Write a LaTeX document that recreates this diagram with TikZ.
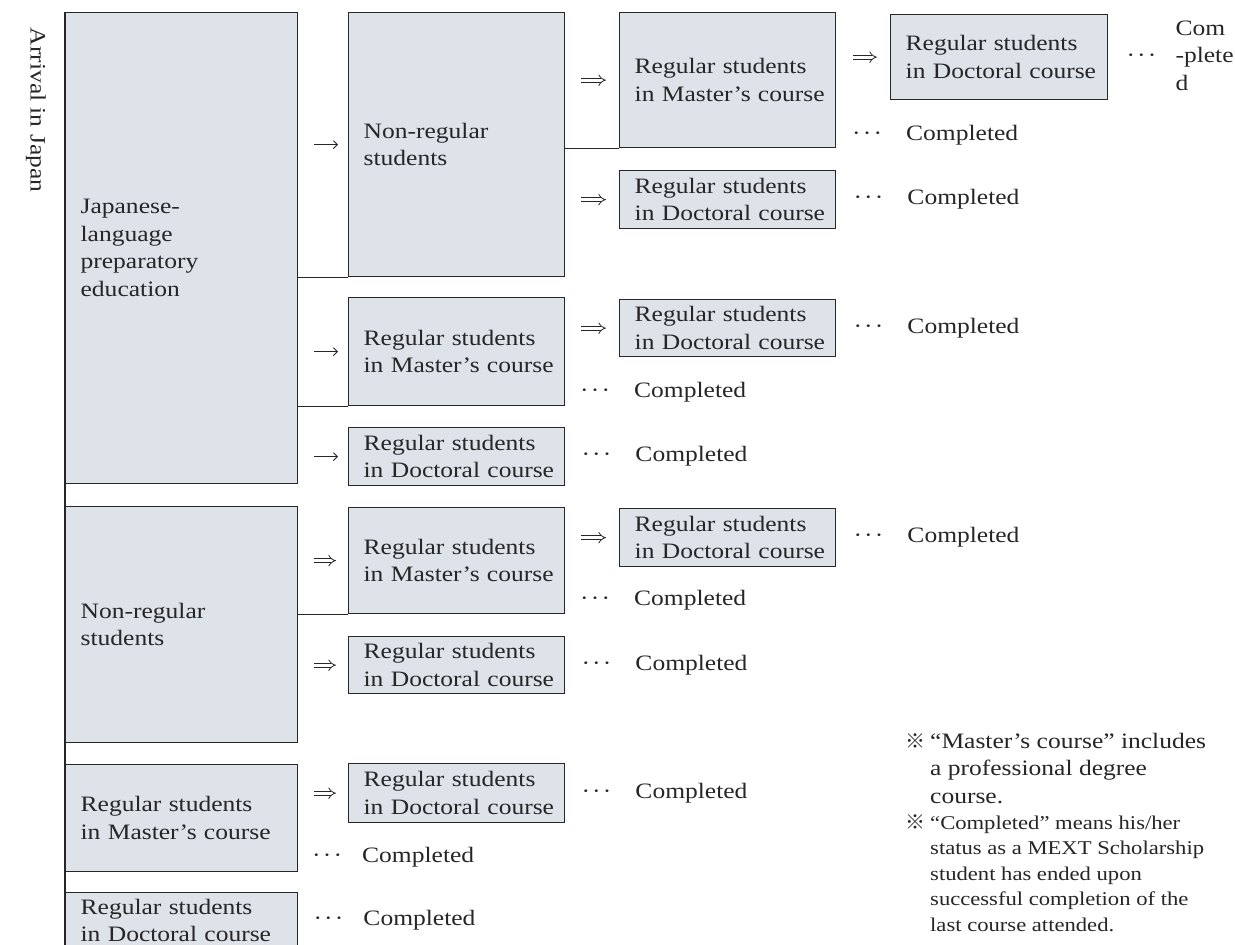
\documentclass[tikz,border=0pt]{standalone}
\usepackage{fontspec}
\setmainfont{Liberation Serif}[FakeStretch=1.16]
\newfontfamily\cjk{Noto Sans CJK JP}
\usetikzlibrary{arrows.meta,calc}
\definecolor{boxfill}{RGB}{222,226,233}
\definecolor{ink}{RGB}{38,38,38}
\newcommand\mainsize{\fontsize{22}{27.5}\selectfont}
\newcommand\notesize{\fontsize{19.5}{25.5}\selectfont}
\newcommand\mydots{·\hspace{2.2pt}·\hspace{2.2pt}·}
\newcommand\dotsdone{\makebox[54pt][l]{\mydots}Completed}
\newcommand\regm{\mbox{Regular students}\\\mbox{in Master’s course}}
\newcommand\regd{\mbox{Regular students}\\\mbox{in Doctoral course}}
\begin{document}
\begin{tikzpicture}[x=1pt,y=-1pt,
  every node/.style={text=ink, font=\mainsize},
  box/.style={draw=ink, fill=boxfill, line width=1.3pt, inner xsep=15pt, inner ysep=0pt, align=left, anchor=north west},
  link/.style={draw=ink, line width=1.3pt},
  sarrow/.style={draw=ink, line width=0.9pt, -{Straight Barb[length=4pt,width=8pt]}},
  darrow/.style={draw=ink, double, double distance=3.2pt, line width=0.8pt, -{Implies}},
  done/.style={anchor=west, inner sep=0pt},
]
\fill[white] (0,0) rectangle (1235,945);
\useasboundingbox (0,0) rectangle (1235,945);

% vertical label
\node[rotate=-90] (arr) at (36,110) {Arrival in Japan};

% boxes
\node[box, minimum height=471pt, text width=202pt] (jlp) at (65,12) {Japanese-\\language\\preparatory\\education};
\node[box, minimum height=264pt, text width=186pt] (nr1) at (348,12) {Non-regular\\students};
\node[box, minimum height=135pt, text width=186pt] (m1) at (619,12) {\regm};
\node[box, minimum height=85pt, text width=187pt] (d0) at (890,14) {\regd};
\node[box, minimum height=58pt, text width=186pt] (d1) at (619,170) {\regd};
\node[box, minimum height=108pt, text width=186pt] (m2) at (348,297) {\regm};
\node[box, minimum height=57pt, text width=186pt] (da) at (619,299) {\regd};
\node[box, minimum height=58pt, text width=186pt] (d2) at (348,427) {\regd};
\node[box, minimum height=236pt, text width=202pt] (nr2) at (65,506) {Non-regular\\students};
\node[box, minimum height=106pt, text width=186pt] (m3) at (348,507) {\regm};
\node[box, minimum height=58pt, text width=186pt] (db) at (619,508) {\regd};
\node[box, minimum height=57pt, text width=186pt] (d3) at (348,636) {\regd};
\node[box, minimum height=107pt, text width=202pt] (m4) at (65,764) {\regm};
\node[box, minimum height=59pt, text width=186pt] (d4) at (348,763) {\regd};
\node[box, minimum height=56pt, text width=202pt] (d5) at (65,892) {\regd};

% tree lines
\draw[link] (jlp.north west) -- (jlp.north west |- d5.south west);
\draw[link] (nr1.south west) -- (nr1.south west -| jlp.east);
\draw[link] (m2.south west) -- (m2.south west -| jlp.east);
\draw[link] (m1.south west) -- (m1.south west -| nr1.east);
\draw[link] (m3.south west) -- (m3.south west -| nr2.east);

% arrows
\draw[sarrow, shorten <=16pt, shorten >=10pt] (jlp.east |- nr1.west) -- (nr1.west);
\draw[sarrow, shorten <=16pt, shorten >=10pt] (jlp.east |- m2.west) -- (m2.west);
\draw[sarrow, shorten <=16pt, shorten >=10pt] (jlp.east |- d2.west) -- (d2.west);
\draw[darrow, shorten <=16pt, shorten >=13pt] (nr1.east |- m1.west) -- (m1.west);
\draw[darrow, shorten <=16pt, shorten >=13pt] (nr1.east |- d1.west) -- (d1.west);
\draw[darrow, shorten <=17pt, shorten >=13pt] (m1.east |- d0.west) -- (d0.west);
\draw[darrow, shorten <=16pt, shorten >=13pt] (m2.east |- da.west) -- (da.west);
\draw[darrow, shorten <=16pt, shorten >=12pt] (nr2.east |- m3.west) -- (m3.west);
\draw[darrow, shorten <=16pt, shorten >=12pt] (nr2.east |- d3.west) -- (d3.west);
\draw[darrow, shorten <=16pt, shorten >=13pt] (m3.east |- db.west) -- (db.west);
\draw[darrow, shorten <=16pt, shorten >=12pt] (m4.east |- d4.west) -- (d4.west);

% completed labels
\node[done] (c0) at ([xshift=18pt]d0.east) {\makebox[49pt][l]{\mydots}\begin{tabular}[c]{@{}l@{}}Com\\-plete\\d\end{tabular}};
\node[done] (c1) at (852,135) {\dotsdone};
\node[done] (c2) at ([xshift=17pt]d1.east) {\dotsdone};
\node[done] (c3) at ([xshift=17pt]da.east) {\dotsdone};
\node[done] (c4) at (580,392) {\dotsdone};
\node[done] (c5) at ([xshift=16pt]d2.east) {\dotsdone};
\node[done] (c6) at ([xshift=17pt]db.east) {\dotsdone};
\node[done] (c7) at (580,600) {\dotsdone};
\node[done] (c8) at ([xshift=16pt]d3.east) {\dotsdone};
\node[done] (c9) at ([xshift=16pt]d4.east) {\dotsdone};
\node[done] (c10) at (312,857) {\makebox[50pt][l]{\mydots}Completed};
\node[done] (c11) at ([xshift=15pt]d5.east) {\makebox[50pt][l]{\mydots}Completed};

% notes
\node[anchor=north west, inner sep=0pt] (n1) at (905,729) {\begin{tabular}{@{}l@{}l@{}}\makebox[25pt][l]{\cjk\fontsize{20}{27.5}\selectfont ※}&“Master’s course” includes\\&a professional degree\\&course.\end{tabular}};
\node[anchor=north west, inner sep=0pt, font=\notesize] (n2) at (905,811) {\begin{tabular}{@{}l@{}l@{}}\makebox[25pt][l]{\cjk\fontsize{20}{25.5}\selectfont ※}&“Completed” means his/her\\&status as a MEXT Scholarship\\&student has ended upon\\&successful completion of the\\&last course attended.\end{tabular}};
\end{tikzpicture}
\end{document}
